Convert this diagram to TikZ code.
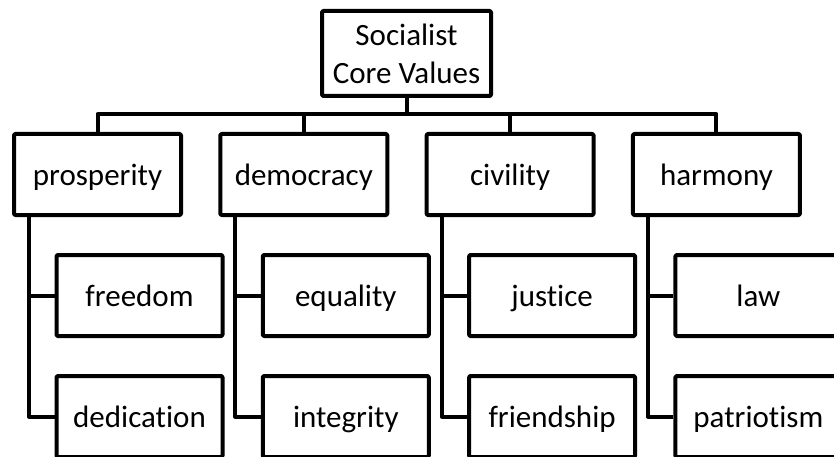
\documentclass[tikz,border=0pt]{standalone}
\usepackage{fontspec}
\setmainfont[Ligatures={NoCommon,NoRequired}]{Carlito}
\newcommand\valfont{\fontsize{31}{38}\selectfont}
\begin{document}
\begin{tikzpicture}[x=1pt,y=-1pt,
  box/.style={draw, rectangle, line width=4pt, line join=round, rounded corners=1.2pt,
              minimum width=167pt, minimum height=81pt, inner sep=0pt, font=\valfont},
  leaf/.style={box, text height=21pt, text depth=0pt},
  link/.style={draw, line width=4pt, line join=round}]
\useasboundingbox (0,0) rectangle (834,457);
\clip (0,0) rectangle (834,457);
\fill[white] (0,0) rectangle (834,457);
% root
\node[box, minimum width=169pt, minimum height=85pt, align=center] (root) at (406.5,53.5) {Socialist\\Core Values};
% level 1
\node[leaf] (pros) at (97.5,174.5) {prosperity};
\node[leaf] (demo) at (303.8,174.5) {democracy};
\node[leaf] (civi) at (510.1,174.5) {civility};
\node[leaf] (harm) at (716.4,174.5) {harmony};
% level 2
\node[leaf, minimum width=166pt] (free) at (139.5,295.5) {freedom};
\node[leaf, minimum width=166pt] (dedi) at (139.5,416.5) {dedication};
\node[leaf, minimum width=166pt] (equa) at (345.8,295.5) {equality};
\node[leaf, minimum width=166pt] (inte) at (345.8,416.5) {integrity};
\node[leaf, minimum width=166pt] (just) at (552.1,295.5) {justice};
\node[leaf, minimum width=166pt] (frie) at (552.1,416.5) {friendship};
\node[leaf, minimum width=166pt] (law)  at (758.4,295.5) {law};
\node[leaf, minimum width=166pt] (patr) at (758.4,416.5) {patriotism};
% bus
\coordinate (bus) at (406.5,114);
\draw[link] (root.south) -- (bus);
\draw[link] (pros.north) |- (bus) -| (harm.north);
\draw[link] (demo.north) -- (demo.north |- bus);
\draw[link] (civi.north) -- (civi.north |- bus);
% spines
\coordinate (ps) at ([xshift=-68.5pt]pros.south);
\coordinate (ds) at ([xshift=-68.5pt]demo.south);
\coordinate (cs) at ([xshift=-68.5pt]civi.south);
\coordinate (hs) at ([xshift=-68.5pt]harm.south);
\draw[link] (ps) |- (dedi.west);
\draw[link] (ps |- free.west) -- (free.west);
\draw[link] (ds) |- (inte.west);
\draw[link] (ds |- equa.west) -- (equa.west);
\draw[link] (cs) |- (frie.west);
\draw[link] (cs |- just.west) -- (just.west);
\draw[link] (hs) |- (patr.west);
\draw[link] (hs |- law.west) -- (law.west);
\end{tikzpicture}
\end{document}
